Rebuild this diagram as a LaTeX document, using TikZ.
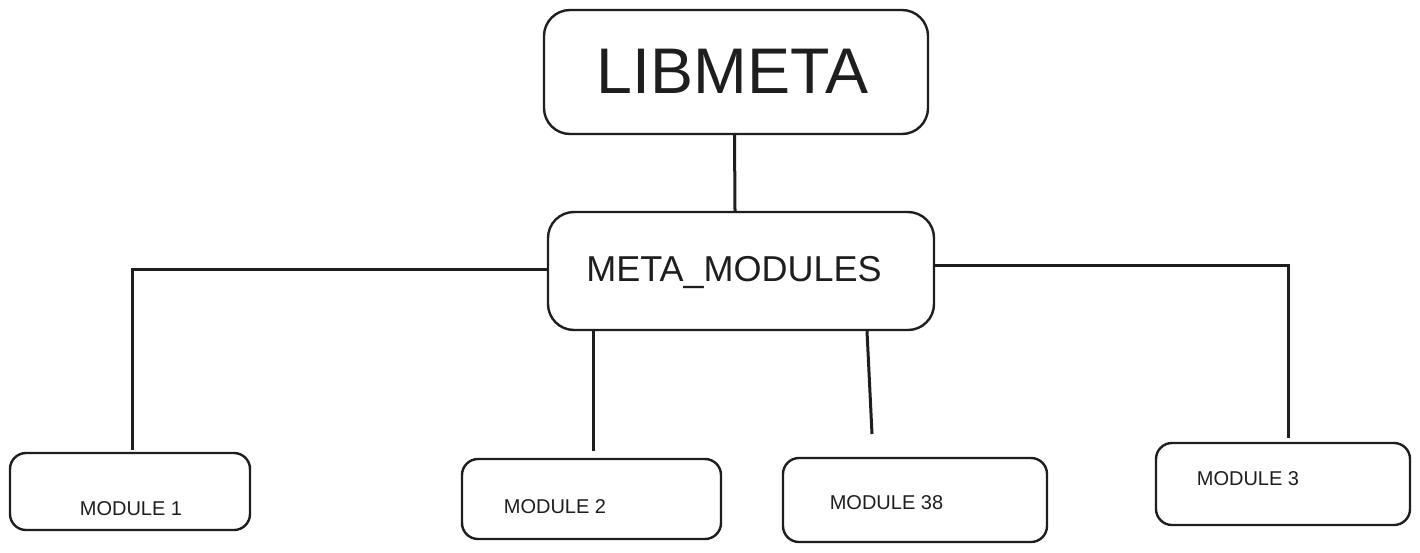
\documentclass[tikz,border=0pt]{standalone}
\usepackage{fontspec}
\setmainfont{Liberation Sans}
\definecolor{ink}{HTML}{1E1E1E}
\begin{document}
\begin{tikzpicture}[x=1pt,y=-1pt,
  box/.style={draw=ink,line width=2.4pt,rounded corners=#1,inner sep=0pt,fill=white},
  box/.default=16pt,
  lbl/.style={text=ink,inner sep=0pt,anchor=base},
  conn/.style={draw=ink,line width=3pt}]
\useasboundingbox (0,0) rectangle (1420,552);
% boxes
\node[box=26pt,minimum width=384pt,minimum height=124pt] (lib) at (736,72) {};
\node[box=26pt,minimum width=386pt,minimum height=118pt] (meta) at (741,271) {};
\node[box,minimum width=240pt,minimum height=77pt] (m1) at (130,491.5) {};
\node[box,minimum width=259pt,minimum height=80pt] (m2) at (591.5,499) {};
\node[box,minimum width=264pt,minimum height=84pt] (m38) at (915,500) {};
\node[box,minimum width=254pt,minimum height=82pt] (m3) at (1283,484) {};
% labels
\node[lbl,font=\fontsize{64.5}{70}\selectfont] (tlib) at (732.5,93) {LIBMETA};
\node[lbl,font=\fontsize{36}{40}\selectfont] (tmeta) at (734,281) {META\_MODULES};
\node[lbl,font=\fontsize{20}{24}\selectfont] (t1) at (131,515) {MODULE 1};
\node[lbl,font=\fontsize{20}{24}\selectfont] (t2) at (555,513) {MODULE 2};
\node[lbl,font=\fontsize{20}{24}\selectfont] (t38) at (886.5,509) {MODULE 38};
\node[lbl,font=\fontsize{20}{24}\selectfont] (t3) at (1248,485) {MODULE 3};
% connector free ends
\coordinate (c1) at (132,450);
\coordinate (c2) at (593,451);
\coordinate (c3) at (872,434);
\coordinate (c4) at (1288,438);
% connectors
\draw[conn] ([xshift=-1.5pt]lib.south) -- ([xshift=-6pt]meta.north);
\draw[conn] ([yshift=2pt]meta.west) -| (c1);
\draw[conn] (meta.south -| c2) -- (c2);
\draw[conn] ([xshift=126pt]meta.south) -- (c3);
\draw[conn] ([yshift=6pt]meta.east) -| (c4);
\end{tikzpicture}
\end{document}
